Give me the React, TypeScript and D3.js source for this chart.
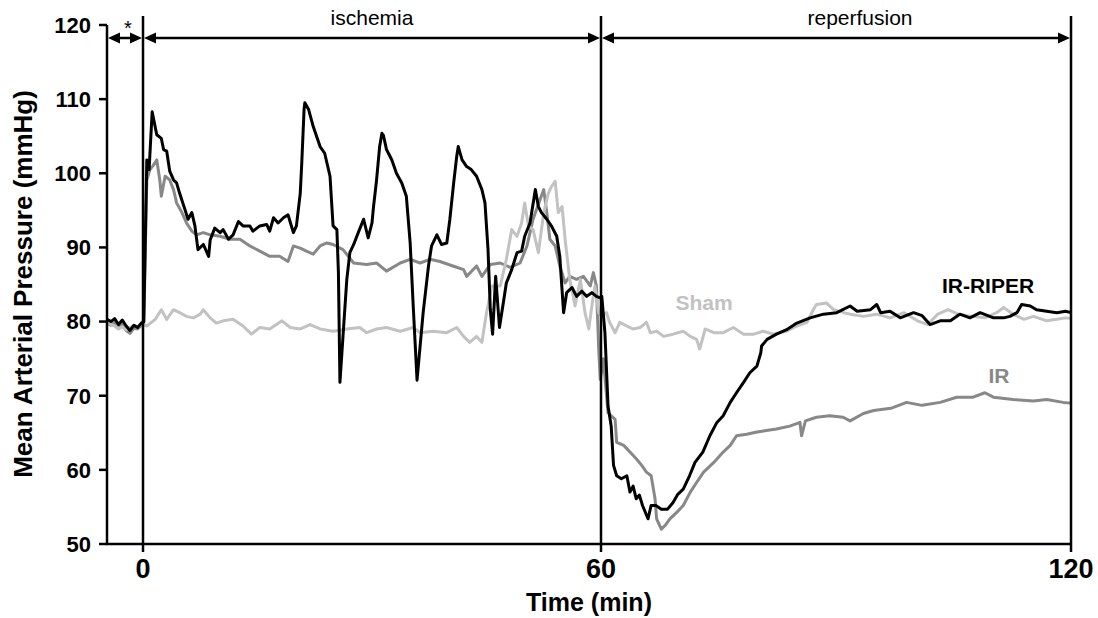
import * as d3 from "d3";
import React from "react";

// time (min) / mean arterial pressure (mmHg)
const irRiper: [number, number][] = [
  [-4.7, 80.3], [-4.2, 80.0], [-3.7, 80.4], [-3.2, 79.6], [-2.7, 80.2], [-2.2, 79.4],
  [-1.7, 78.8], [-1.2, 79.5], [-0.7, 79.2], [-0.2, 79.8], [0.1, 80.0],
  [0.5, 101.8], [0.8, 100.5], [1.2, 108.3], [1.8, 105.2], [2.4, 104.7], [2.7, 103.2],
  [3.1, 103], [3.5, 100.3], [4.0, 99.1], [4.4, 98.7], [4.8, 97.3], [5.5, 95.1],
  [5.9, 93.8], [6.4, 94.7], [6.8, 92.9], [7.2, 89.7], [7.9, 90.4], [8.6, 88.8],
  [8.8, 91], [9.4, 92.6], [10.1, 92], [10.5, 92.4], [11.2, 91.1], [11.8, 91.7],
  [12.5, 93.5], [13.1, 92.9], [14, 92.9], [14.4, 92.2], [15.3, 92.9], [16.2, 93.1],
  [16.6, 92.2], [17.1, 94], [17.7, 93.3], [18.4, 94], [19, 94.4], [19.7, 92],
  [20.1, 92.9], [20.6, 97.3], [20.8, 101.4], [21.1, 108.6], [21.2, 109.5], [21.7, 108.6],
  [22.3, 106.3], [23.2, 103.6], [23.8, 102.7], [24.5, 99.6], [24.9, 92.9], [25.4, 92.4],
  [25.6, 86.6], [25.8, 71.8], [26.2, 78], [26.7, 85.7], [27.1, 89.3], [27.6, 90.4],
  [28.2, 92], [28.9, 93.8], [29.5, 91.3], [30, 93.3], [30.2, 95.5], [30.6, 99.1],
  [31, 103.6], [31.3, 105.4], [31.5, 105.1], [31.9, 103.2], [32.6, 101.8], [33.2, 100],
  [33.9, 98.7], [34.5, 96.9], [35, 90.6], [35.4, 82.1], [35.9, 72.1], [36.7, 81.2],
  [37.4, 87.5], [37.8, 90.2], [38.5, 91.7], [39.1, 90.4], [39.8, 90.6], [40.2, 93.8],
  [40.7, 98.7], [41.1, 102.3], [41.3, 103.6], [41.8, 101.8], [42.4, 100.9], [43, 100.5],
  [43.7, 99.6], [44.4, 97.8], [44.8, 96], [45.2, 89.7], [45.5, 81.6], [45.8, 78.3],
  [46.2, 86.1], [46.7, 79.2], [47.2, 82.5], [47.6, 85.2], [48.3, 87], [49, 89.3],
  [49.6, 89.5], [50, 91.5], [50.7, 93.3], [51.4, 97.8], [51.8, 95.5], [52.2, 94.7],
  [52.9, 93.8], [53.5, 92.9], [54.2, 91.5], [54.6, 88.8], [55.1, 81.2], [55.5, 83.9],
  [56.2, 84.6], [56.8, 83.4], [57.5, 84.1], [58.1, 83.4], [58.8, 83.9], [59.4, 83.4],
  [59.9, 83.2], [60.1, 83.4], [60.5, 78.5], [60.9, 68.6], [61.3, 65.9], [61.6, 60.6],
  [62, 59.2], [62.6, 58.8], [63.3, 59.2], [63.7, 57], [64.1, 57.8], [64.5, 56.1],
  [64.9, 56.6], [65.3, 55.2], [66, 53.4], [66.4, 55.2], [67, 55.2], [67.7, 54.7],
  [68.5, 54.7], [69.2, 55.6], [69.8, 56.7], [70.5, 57.4], [71.3, 59.2], [72, 61],
  [73, 62.4], [73.9, 64.6], [74.8, 66.4], [75.6, 67.3], [76.5, 69.1], [77.3, 70.4],
  [78.2, 71.8], [79, 73.1], [79.9, 74], [80.4, 75.8], [80.5, 76.7], [81.2, 77.6],
  [82.4, 78.3], [83.7, 78.9], [85, 79.8], [86.7, 80.5], [88.4, 81], [90.1, 81.2],
  [91.8, 82.1], [92.7, 81.4], [94.4, 81.6], [95.2, 82.3], [95.7, 81.2], [96.9, 81.4],
  [98.2, 80.5], [99.9, 81.2], [101, 80.8], [102, 79.6], [103.3, 80.1], [104.6, 80.1],
  [105.8, 81], [107.1, 80.5], [108.4, 81.2], [110.1, 80.5], [111.4, 80.5], [112.2, 80.7],
  [113.1, 81.2], [113.7, 82.3], [114.8, 82.1], [115.6, 81.6], [116.9, 81.4], [118.2, 81.2],
  [119.3, 81.4], [120, 81.2],
];

const ir: [number, number][] = [
  [-4.7, 79.8], [-4.2, 79.5], [-3.7, 79.9], [-3.2, 79.2], [-2.7, 79.6], [-2.2, 78.8],
  [-1.7, 78.4], [-1.2, 79.1], [-0.7, 79.0], [-0.2, 79.5], [0.1, 79.6], [0.5, 99.1],
  [0.9, 100.5], [1.3, 101], [1.8, 101.8], [2.2, 99.1], [2.4, 96.9], [2.9, 99.6],
  [3.5, 99.1], [4, 97.8], [4.4, 96], [5.1, 94.7], [5.7, 93.3], [6.4, 92.2], [7, 91.7],
  [7.9, 92], [8.8, 91.7], [10.1, 91.5], [11.4, 91.1], [12.7, 91.1], [14, 90.2],
  [15.3, 89.5], [16.6, 88.8], [17.9, 88.8], [19, 88.1], [19.7, 90.2], [20.6, 89.9],
  [21.4, 89.5], [22.3, 89.1], [23.2, 90.2], [24.1, 90.6], [24.9, 90.4], [26.2, 89.7],
  [27.6, 87.9], [29.3, 87.7], [30.6, 87.9], [31.9, 86.8], [33.7, 87.9], [35, 88.4],
  [36.3, 87.9], [37.6, 88.4], [38.9, 88.1], [40.6, 87.5], [42, 87], [42.4, 86.1],
  [43.7, 87.5], [44.4, 86.1], [45.5, 87.7], [46.8, 87.9], [48.1, 87.3], [49.4, 87.9],
  [50.3, 90.2], [51.1, 93.8], [52, 96.4], [52.5, 97.8], [52.9, 94.7], [53.3, 91.1],
  [54, 90.2], [54.6, 87.5], [55.3, 85.2], [55.9, 86.1], [56.8, 85.7], [57.7, 86.1],
  [58.6, 84.8], [59, 86.6], [59.4, 84.8], [59.7, 76.3], [59.9, 72.2], [60.3, 75],
  [60.9, 67.7], [61.8, 66.8], [62, 63.7], [62.9, 63.3], [63.7, 62.4], [64.5, 61.5],
  [65.2, 60.6], [65.8, 59.7], [66.4, 59.2], [66.9, 56.1], [67.1, 53.4], [67.7, 52],
  [68.2, 52.5], [68.8, 53.4], [69.7, 54.3], [70.5, 55.2], [71.4, 57], [72.2, 58.3],
  [73.1, 59.7], [74.4, 61], [75.6, 62.4], [76.5, 63.3], [77.3, 64.6], [78.6, 64.8],
  [79.9, 65.1], [81.1, 65.3], [82.4, 65.5], [84.1, 65.9], [85.4, 66.4], [85.6, 64.6],
  [86.1, 66.6], [87.5, 67.1], [89.2, 67.3], [90.9, 67.1], [91.8, 66.6], [93.5, 67.6],
  [94.8, 68], [97, 68.3], [99, 69.1], [101, 68.7], [103.3, 69.1], [105.4, 69.8],
  [107.5, 69.8], [109, 70.4], [110.1, 69.8], [112.6, 69.5], [115.2, 69.3], [116.9, 69.5],
  [119, 69.1], [120, 69],
];

const sham: [number, number][] = [
  [-4.7, 79.9], [-4.2, 79.6], [-3.7, 79.4], [-3.2, 79.0], [-2.7, 79.3], [-2.2, 78.9],
  [-1.7, 79.2], [-1.2, 79.5], [-0.7, 79.3], [-0.2, 79.6], [0.5, 79.4], [1.6, 80.3],
  [2.4, 81.6], [3.1, 80.3], [4, 81.6], [4.8, 81.2], [5.7, 80.7], [6.6, 80.5], [7.5, 81],
  [7.9, 81.6], [8.8, 80.5], [9.6, 79.8], [10.5, 80.1], [11.8, 80.3], [13.1, 79.4],
  [14.2, 78.3], [15.3, 79.2], [16.6, 79], [18.2, 80.1], [19.3, 79.2], [20.6, 79],
  [21.9, 79.6], [23.2, 79], [24.9, 78.7], [26.7, 79], [28.4, 79.2], [29.3, 78.5],
  [30.6, 79], [31.9, 79.2], [33.7, 78.7], [35.4, 79.2], [36.3, 78.5], [38, 78.7],
  [39.8, 78.5], [41.1, 79.2], [42, 78], [42.8, 77.2], [43.7, 78], [44.4, 77.2], [45, 81.2],
  [45.7, 84.8], [46.8, 84.8], [47.6, 88.4], [48.3, 92.4], [49, 91.5], [49.6, 93.3],
  [50, 96], [50.5, 92.9], [51.1, 92.4], [51.8, 89.3], [52.5, 94.7], [53.1, 97.3],
  [53.5, 98.2], [54, 98.9], [54.4, 94.7], [54.9, 95.5], [55.3, 91.1], [55.9, 85.7],
  [56.6, 82.1], [57.3, 85.7], [57.9, 81.2], [58.4, 79], [58.8, 82.1], [59.2, 84.8],
  [59.7, 81.2], [60.1, 80.7], [60.7, 81.2], [61.1, 79.9], [61.8, 78.5], [62.4, 79.9],
  [63.3, 79.4], [64.1, 79], [65, 79.2], [65.8, 79.9], [66.3, 78.5], [67.1, 78.7], [68, 78],
  [69.2, 78.3], [70.5, 78.7], [71.4, 78], [72.2, 77.6], [72.6, 76.3], [73.3, 79],
  [74.4, 78.5], [75.6, 78.5], [76.9, 79.2], [78.2, 78.3], [79.5, 78.3], [80.7, 78.7],
  [82, 78.3], [83.7, 78.7], [85, 79.4], [86.3, 79.9], [87.1, 81.6], [87.5, 82.3],
  [88.8, 82.5], [89.7, 81.6], [91, 81.2], [91.8, 81], [93.5, 80.7], [95.2, 81],
  [96.9, 80.5], [98.7, 81.2], [100.4, 80.1], [101.7, 79.6], [103, 81], [104.3, 81.6],
  [105.6, 81], [107.4, 80.7], [109, 80.5], [110.5, 81.2], [111.4, 81.9], [112.6, 81],
  [114, 80.3], [115.2, 80.7], [116.9, 80.1], [118.2, 80.3], [119.3, 80.5], [120, 80.4],
];

const yTicks = [50, 60, 70, 80, 90, 100, 110, 120];
const xTicks = [0, 60, 120];
const phases = [
  { label: "*", from: -4.7, to: 0 },
  { label: "ischemia", from: 0, to: 60 },
  { label: "reperfusion", from: 60, to: 120 },
];

const font = "'Liberation Sans', Arial, Helvetica, sans-serif";

const App = () => {
  const x = d3.scaleLinear().domain([-4.7, 0, 60, 120]).range([107, 143, 601, 1071]);
  const y = d3.scaleLinear().domain([50, 120]).range([544, 25]);

  const line = d3
    .line<[number, number]>()
    .x((d) => x(d[0]))
    .y((d) => y(d[1]));

  const arrowY = 38;
  const head = (tip: number, dir: number) =>
    `M${tip},${arrowY} L${tip - dir * 12},${arrowY - 5.5} L${tip - dir * 12},${arrowY + 5.5} Z`;

  const series = [
    { data: ir, color: "#888888", width: 3 },
    { data: sham, color: "#c2c2c2", width: 3 },
    { data: irRiper, color: "#000000", width: 3 },
  ];

  return (
    <svg
      width={1098}
      height={618}
      style={{ position: "absolute", left: 0, top: 0, background: "#fff" }}
      fontFamily={font}
    >
      {series.map((s, i) => (
        <path
          key={i}
          d={line(s.data) ?? ""}
          fill="none"
          stroke={s.color}
          strokeWidth={s.width}
          strokeLinejoin="round"
        />
      ))}

      {/* phase dividers */}
      {[0, 60, 120].map((t) => (
        <line key={t} x1={x(t)} x2={x(t)} y1={16} y2={552} stroke="#000" strokeWidth={2.5} />
      ))}

      {/* phase arrows */}
      {phases.map((p) => {
        const a = x(p.from) + 1;
        const b = x(p.to) - 1;
        return (
          <g key={p.label}>
            <line x1={a + 6} x2={b - 6} y1={arrowY} y2={arrowY} stroke="#000" strokeWidth={2.5} />
            <path d={head(a, -1)} fill="#000" />
            <path d={head(b, 1)} fill="#000" />
          </g>
        );
      })}
      <text x={128} y={35} fontSize={20} textAnchor="middle">*</text>
      <text x={(x(0) + x(60)) / 2} y={25} fontSize={21} textAnchor="middle">ischemia</text>
      <text x={860} y={25} fontSize={21} textAnchor="middle">reperfusion</text>

      {/* y axis */}
      <line x1={107} x2={107} y1={y(120)} y2={y(50) + 1} stroke="#000" strokeWidth={2.5} />
      {yTicks.map((t) => (
        <g key={t}>
          <line x1={99} x2={107} y1={y(t)} y2={y(t)} stroke="#000" strokeWidth={2.5} />
          <text
            x={91}
            y={y(t)}
            dy="0.36em"
            textAnchor="end"
            fontSize={22}
            fontWeight="bold"
          >
            {t}
          </text>
        </g>
      ))}

      {/* x axis */}
      <line x1={106} x2={x(120) + 1} y1={y(50)} y2={y(50)} stroke="#000" strokeWidth={2.5} />
      {xTicks.map((t) => (
        <text key={t} x={x(t)} y={578} textAnchor="middle" fontSize={27} fontWeight="bold">
          {t}
        </text>
      ))}

      <text x={589} y={611} textAnchor="middle" fontSize={25} fontWeight="bold">
        Time (min)
      </text>
      <text
        transform="translate(32,284) rotate(-90)"
        textAnchor="middle"
        fontSize={26}
        fontWeight="bold"
      >
        Mean Arterial Pressure (mmHg)
      </text>

      {/* series labels */}
      <text x={988} y={293} textAnchor="middle" fontSize={21} fontWeight="bold" fill="#000">
        IR-RIPER
      </text>
      <text x={704} y={310} textAnchor="middle" fontSize={21} fontWeight="bold" fill="#c2c2c2">
        Sham
      </text>
      <text x={999} y={383} textAnchor="middle" fontSize={21} fontWeight="bold" fill="#888888">
        IR
      </text>
    </svg>
  );
};

export default App;
